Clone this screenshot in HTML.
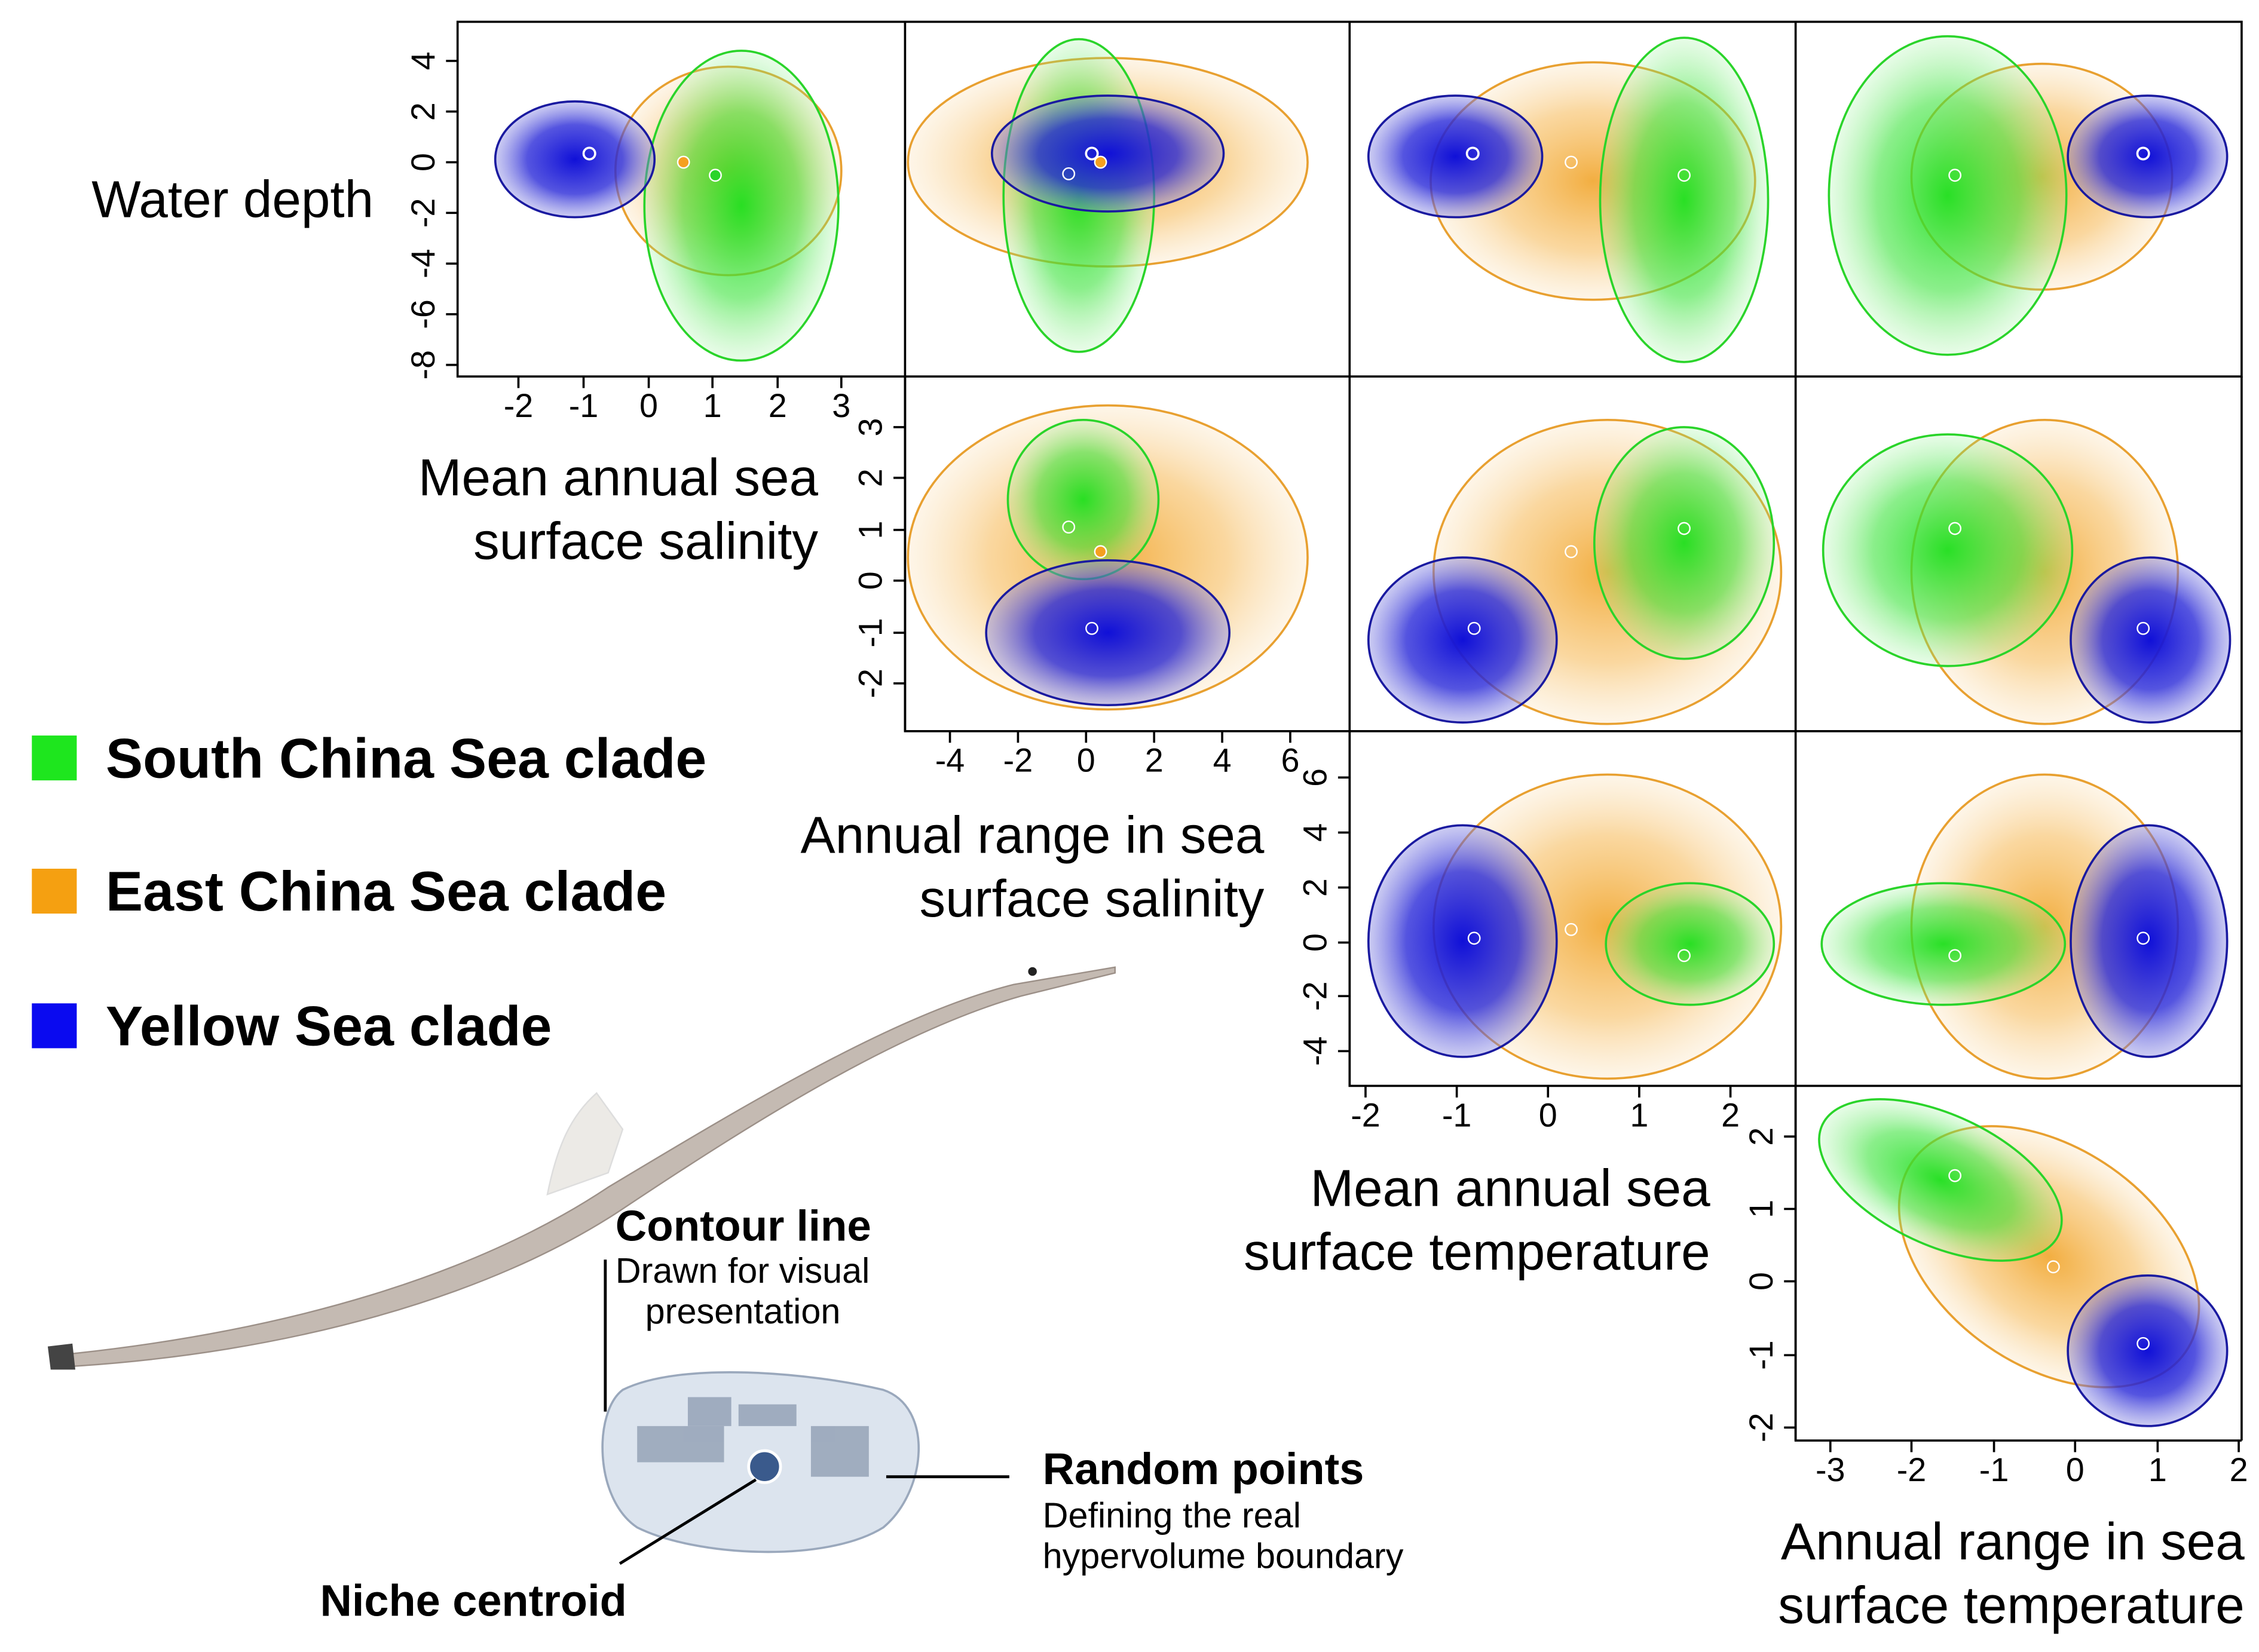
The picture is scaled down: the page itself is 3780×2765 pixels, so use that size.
<!DOCTYPE html>
<html><head><meta charset="utf-8"><style>
html,body{margin:0;padding:0;background:#fff;}
svg{display:block;}
text{font-family:"Liberation Sans",Arial,sans-serif;fill:#000;}
.t{font-size:23px;}
.ti{font-size:36px;}
.lg{font-size:38.5px;font-weight:bold;}
</style></head><body>
<svg width="3780" height="2765" viewBox="0 0 1560 1141" xmlns="http://www.w3.org/2000/svg">
<defs>
<radialGradient id="gG"><stop offset="0" stop-color="#1ee01e" stop-opacity="0.95"/><stop offset="0.6" stop-color="#3ee43e" stop-opacity="0.6"/><stop offset="1" stop-color="#8cf08c" stop-opacity="0.2"/></radialGradient>
<radialGradient id="gO"><stop offset="0" stop-color="#f0a020" stop-opacity="0.85"/><stop offset="0.6" stop-color="#f5b040" stop-opacity="0.5"/><stop offset="1" stop-color="#f8d090" stop-opacity="0.2"/></radialGradient>
<radialGradient id="gB"><stop offset="0" stop-color="#1010d8" stop-opacity="1"/><stop offset="0.6" stop-color="#2a2ad8" stop-opacity="0.8"/><stop offset="1" stop-color="#8080e0" stop-opacity="0.4"/></radialGradient>
</defs>
<rect width="1560" height="1141" fill="#fff"/>

<g>
<ellipse cx="503" cy="118" rx="78" ry="72" fill="url(#gO)" stroke="#e8a030" stroke-width="1.5"/>
<ellipse cx="512" cy="142" rx="67" ry="107" fill="url(#gG)" stroke="#2ad42a" stroke-width="1.5"/>
<ellipse cx="397" cy="110" rx="55" ry="40" fill="url(#gB)" stroke="#1a1aa0" stroke-width="1.5"/>
<circle cx="407" cy="106" r="4" fill="none" stroke="#fff" stroke-width="1.5"/><circle cx="472" cy="112" r="4" fill="#f5a020" stroke="#fff"/><circle cx="494" cy="121" r="4" fill="#2ad42a" stroke="#fff"/>

<ellipse cx="765" cy="112" rx="138" ry="72" fill="url(#gO)" stroke="#e8a030" stroke-width="1.5"/>
<ellipse cx="745" cy="135" rx="52" ry="108" fill="url(#gG)" stroke="#2ad42a" stroke-width="1.5"/>
<ellipse cx="765" cy="106" rx="80" ry="40" fill="url(#gB)" stroke="#1a1aa0" stroke-width="1.5"/>
<circle cx="754" cy="106" r="4" fill="none" stroke="#fff" stroke-width="1.5"/><circle cx="760" cy="112" r="4" fill="#f5a020" stroke="#fff"/><circle cx="738" cy="120" r="4" fill="none" stroke="#fff"/>

<ellipse cx="1100" cy="125" rx="112" ry="82" fill="url(#gO)" stroke="#e8a030" stroke-width="1.5"/>
<ellipse cx="1163" cy="138" rx="58" ry="112" fill="url(#gG)" stroke="#2ad42a" stroke-width="1.5"/>
<ellipse cx="1005" cy="108" rx="60" ry="42" fill="url(#gB)" stroke="#1a1aa0" stroke-width="1.5"/>
<circle cx="1017" cy="106" r="4" fill="none" stroke="#fff" stroke-width="1.5"/><circle cx="1085" cy="112" r="4" fill="none" stroke="#fff"/><circle cx="1163" cy="121" r="4" fill="none" stroke="#fff"/>

<ellipse cx="1410" cy="122" rx="90" ry="78" fill="url(#gO)" stroke="#e8a030" stroke-width="1.5"/>
<ellipse cx="1345" cy="135" rx="82" ry="110" fill="url(#gG)" stroke="#2ad42a" stroke-width="1.5"/>
<ellipse cx="1483" cy="108" rx="55" ry="42" fill="url(#gB)" stroke="#1a1aa0" stroke-width="1.5"/>
<circle cx="1480" cy="106" r="4" fill="none" stroke="#fff" stroke-width="1.5"/><circle cx="1350" cy="121" r="4" fill="none" stroke="#fff"/>
</g>
<g>
<ellipse cx="765" cy="385" rx="138" ry="105" fill="url(#gO)" stroke="#e8a030" stroke-width="1.5"/>
<ellipse cx="748" cy="345" rx="52" ry="55" fill="url(#gG)" stroke="#2ad42a" stroke-width="1.5"/>
<ellipse cx="765" cy="437" rx="84" ry="50" fill="url(#gB)" stroke="#1a1aa0" stroke-width="1.5"/>
<circle cx="738" cy="364" r="4" fill="none" stroke="#fff"/><circle cx="760" cy="381" r="4" fill="#f5a020" stroke="#fff"/><circle cx="754" cy="434" r="4" fill="none" stroke="#fff"/>

<ellipse cx="1110" cy="395" rx="120" ry="105" fill="url(#gO)" stroke="#e8a030" stroke-width="1.5"/>
<ellipse cx="1163" cy="375" rx="62" ry="80" fill="url(#gG)" stroke="#2ad42a" stroke-width="1.5"/>
<ellipse cx="1010" cy="442" rx="65" ry="57" fill="url(#gB)" stroke="#1a1aa0" stroke-width="1.5"/>
<circle cx="1018" cy="434" r="4" fill="none" stroke="#fff"/><circle cx="1085" cy="381" r="4" fill="none" stroke="#fff"/><circle cx="1163" cy="365" r="4" fill="none" stroke="#fff"/>

<ellipse cx="1412" cy="395" rx="92" ry="105" fill="url(#gO)" stroke="#e8a030" stroke-width="1.5"/>
<ellipse cx="1345" cy="380" rx="86" ry="80" fill="url(#gG)" stroke="#2ad42a" stroke-width="1.5"/>
<ellipse cx="1485" cy="442" rx="55" ry="57" fill="url(#gB)" stroke="#1a1aa0" stroke-width="1.5"/>
<circle cx="1480" cy="434" r="4" fill="none" stroke="#fff"/><circle cx="1350" cy="365" r="4" fill="none" stroke="#fff"/>
</g>
<g>
<ellipse cx="1110" cy="640" rx="120" ry="105" fill="url(#gO)" stroke="#e8a030" stroke-width="1.5"/>
<ellipse cx="1167" cy="652" rx="58" ry="42" fill="url(#gG)" stroke="#2ad42a" stroke-width="1.5"/>
<ellipse cx="1010" cy="650" rx="65" ry="80" fill="url(#gB)" stroke="#1a1aa0" stroke-width="1.5"/>
<circle cx="1018" cy="648" r="4" fill="none" stroke="#fff"/><circle cx="1085" cy="642" r="4" fill="none" stroke="#fff"/><circle cx="1163" cy="660" r="4" fill="none" stroke="#fff"/>

<ellipse cx="1412" cy="640" rx="92" ry="105" fill="url(#gO)" stroke="#e8a030" stroke-width="1.5"/>
<ellipse cx="1342" cy="652" rx="84" ry="42" fill="url(#gG)" stroke="#2ad42a" stroke-width="1.5"/>
<ellipse cx="1484" cy="650" rx="54" ry="80" fill="url(#gB)" stroke="#1a1aa0" stroke-width="1.5"/>
<circle cx="1480" cy="648" r="4" fill="none" stroke="#fff"/><circle cx="1350" cy="660" r="4" fill="none" stroke="#fff"/>
</g>
<g>
<ellipse cx="1415" cy="868" rx="115" ry="75" transform="rotate(35 1415 868)" fill="url(#gO)" stroke="#e8a030" stroke-width="1.5"/>
<ellipse cx="1340" cy="815" rx="90" ry="45" transform="rotate(25 1340 815)" fill="url(#gG)" stroke="#2ad42a" stroke-width="1.5"/>
<ellipse cx="1483" cy="933" rx="55" ry="52" fill="url(#gB)" stroke="#1a1aa0" stroke-width="1.5"/>
<circle cx="1480" cy="928" r="4" fill="none" stroke="#fff"/><circle cx="1418" cy="875" r="4" fill="none" stroke="#fff"/><circle cx="1350" cy="812" r="4" fill="none" stroke="#fff"/>
</g>

<g fill="none" stroke="#000" stroke-width="1.5">
<rect x="316" y="15" width="1232" height="245"/>
<line x1="625" y1="15" x2="625" y2="505"/><line x1="932" y1="15" x2="932" y2="750"/><line x1="1240" y1="15" x2="1240" y2="995"/>
<polyline points="625,260 625,505 1548,505"/><line x1="1548" y1="260" x2="1548" y2="995"/>
<polyline points="932,505 932,750 1548,750"/><polyline points="1240,750 1240,995 1548,995"/>
</g>

<g stroke="#000" stroke-width="1.5">
<path d="M308 42H316M308 77H316M308 112H316M308 147H316M308 182H316M308 217H316M308 252H316"/>
<path d="M358 260V268M403 260V268M448 260V268M492 260V268M537 260V268M581 260V268"/>
<path d="M617 295H625M617 330H625M617 366H625M617 401H625M617 437H625M617 472H625"/>
<path d="M656 505V513M703 505V513M750 505V513M797 505V513M844 505V513M891 505V513"/>
<path d="M924 537H932M924 575H932M924 613H932M924 651H932M924 688H932M924 726H932"/>
<path d="M943 750V758M1006 750V758M1069 750V758M1132 750V758M1195 750V758"/>
<path d="M1232 785H1240M1232 835H1240M1232 885H1240M1232 936H1240M1232 986H1240"/>
<path d="M1264 995V1003M1320 995V1003M1377 995V1003M1433 995V1003M1490 995V1003M1546 995V1003"/>
</g>
<g class="t" text-anchor="middle">
<text transform="translate(300,42) rotate(-90)">4</text><text transform="translate(300,77) rotate(-90)">2</text><text transform="translate(300,112) rotate(-90)">0</text><text transform="translate(300,147) rotate(-90)">-2</text><text transform="translate(300,182) rotate(-90)">-4</text><text transform="translate(300,217) rotate(-90)">-6</text><text transform="translate(300,252) rotate(-90)">-8</text>
<text x="358" y="288">-2</text><text x="403" y="288">-1</text><text x="448" y="288">0</text><text x="492" y="288">1</text><text x="537" y="288">2</text><text x="581" y="288">3</text>
<text transform="translate(609,295) rotate(-90)">3</text><text transform="translate(609,330) rotate(-90)">2</text><text transform="translate(609,366) rotate(-90)">1</text><text transform="translate(609,401) rotate(-90)">0</text><text transform="translate(609,437) rotate(-90)">-1</text><text transform="translate(609,472) rotate(-90)">-2</text>
<text x="656" y="533">-4</text><text x="703" y="533">-2</text><text x="750" y="533">0</text><text x="797" y="533">2</text><text x="844" y="533">4</text><text x="891" y="533">6</text>
<text transform="translate(916,537) rotate(-90)">6</text><text transform="translate(916,575) rotate(-90)">4</text><text transform="translate(916,613) rotate(-90)">2</text><text transform="translate(916,651) rotate(-90)">0</text><text transform="translate(916,688) rotate(-90)">-2</text><text transform="translate(916,726) rotate(-90)">-4</text>
<text x="943" y="778">-2</text><text x="1006" y="778">-1</text><text x="1069" y="778">0</text><text x="1132" y="778">1</text><text x="1195" y="778">2</text>
<text transform="translate(1224,785) rotate(-90)">2</text><text transform="translate(1224,835) rotate(-90)">1</text><text transform="translate(1224,885) rotate(-90)">0</text><text transform="translate(1224,936) rotate(-90)">-1</text><text transform="translate(1224,986) rotate(-90)">-2</text>
<text x="1264" y="1023">-3</text><text x="1320" y="1023">-2</text><text x="1377" y="1023">-1</text><text x="1433" y="1023">0</text><text x="1490" y="1023">1</text><text x="1546" y="1023">2</text>
</g>
<g class="ti" text-anchor="end">
<text x="258" y="150">Water depth</text>
<text x="565" y="342">Mean annual sea</text><text x="565" y="386">surface salinity</text>
<text x="873" y="589">Annual range in sea</text><text x="873" y="633">surface salinity</text>
<text x="1181" y="833">Mean annual sea</text><text x="1181" y="877">surface temperature</text>
<text x="1550" y="1077">Annual range in sea</text><text x="1550" y="1121">surface temperature</text>
</g>
<rect x="22" y="508" width="31" height="31" fill="#1ee61e"/>
<rect x="22" y="600" width="31" height="31" fill="#f5a011"/>
<rect x="22" y="693" width="31" height="31" fill="#0a0af0"/>
<text class="lg" x="73" y="537">South China Sea clade</text>
<text class="lg" x="73" y="629">East China Sea clade</text>
<text class="lg" x="73" y="722">Yellow Sea clade</text>

<path d="M40 936 C200 920 330 880 420 820 C520 760 620 700 700 680 L770 668 L770 672 L705 688 C620 712 520 775 430 835 C340 895 200 935 45 944 Z" fill="#c4bab2" stroke="#9c9088" stroke-width="1"/>
<path d="M378 825 C385 790 395 770 412 755 L430 780 L420 810 Z" fill="#eceae6" stroke="#ddd"/>
<path d="M33 930 L50 928 L52 946 L35 946 Z" fill="#444"/>
<circle cx="713" cy="671" r="3" fill="#222"/>

<path d="M430 960 C470 940 560 948 610 960 C645 972 640 1030 610 1055 C570 1080 480 1075 440 1055 C410 1035 410 975 430 960 Z" fill="#dce4ee" stroke="#9aa8bc" stroke-width="1.5"/>
<g fill="#7888a0" opacity="0.6">
<rect x="440" y="985" width="60" height="25"/><rect x="475" y="965" width="30" height="20"/><rect x="560" y="985" width="40" height="35"/><rect x="510" y="970" width="40" height="15"/>
</g>
<circle cx="528" cy="1013" r="11" fill="#3a5a8c" stroke="#fff" stroke-width="2"/>
<g stroke="#000" stroke-width="2">
<line x1="418" y1="870" x2="418" y2="975"/>
<line x1="522" y1="1022" x2="428" y2="1080"/>
<line x1="612" y1="1020" x2="697" y2="1020"/>
</g>
<text x="425" y="857" style="font-size:30px;font-weight:bold">Contour line</text>
<text x="425" y="886" style="font-size:24.5px">Drawn for visual</text>
<text x="513" y="914" style="font-size:24.5px" text-anchor="middle">presentation</text>
<text x="221" y="1116" style="font-size:30.5px;font-weight:bold">Niche centroid</text>
<text x="720" y="1025" style="font-size:30.5px;font-weight:bold">Random points</text>
<text x="720" y="1055" style="font-size:24.5px">Defining the real</text>
<text x="720" y="1083" style="font-size:24.5px">hypervolume boundary</text>
</svg>
</body></html>
